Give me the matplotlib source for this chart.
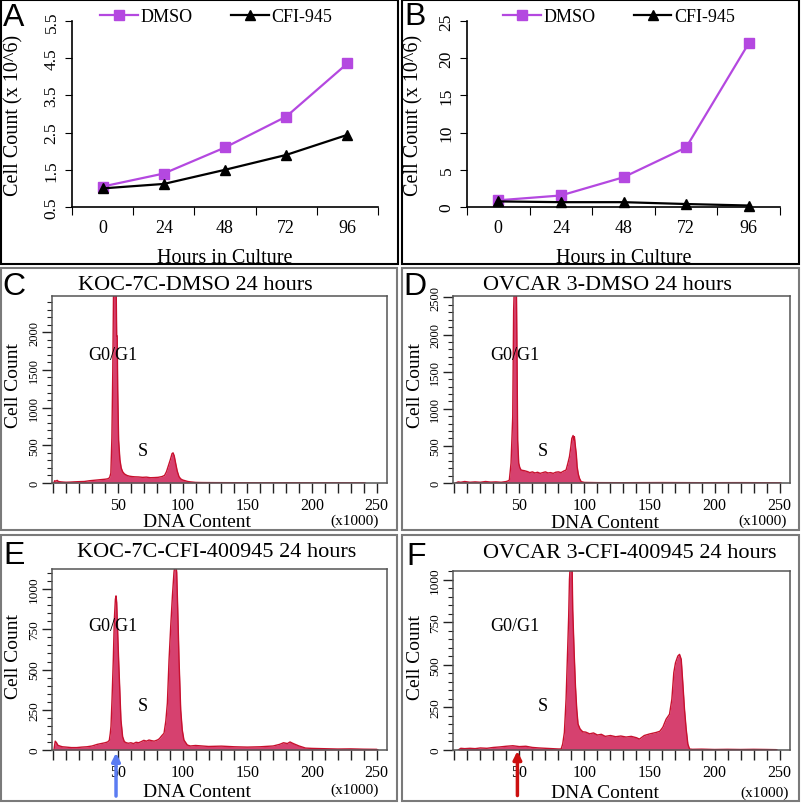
import numpy as np
import matplotlib.pyplot as plt
from matplotlib.patches import Rectangle
from matplotlib.ticker import MultipleLocator

# growth curves (cell count x 10^6)
hours = ['0', '24', '48', '72', '96']
a_dmso = [1.05, 1.4, 2.1, 2.93, 4.36]
a_cfi = [1.0, 1.12, 1.5, 1.9, 2.44]
b_dmso = [0.9, 1.55, 4.0, 8.0, 22.0]
b_cfi = [0.75, 0.65, 0.65, 0.4, 0.2]

# DNA content histograms, outline (x1000, cell count)
dna_c = [0.5, 1, 2, 3, 4, 6, 8, 10, 13, 16, 20, 24, 28, 31, 34, 37, 40, 42, 43.5, 44.5,
         45.3, 46.0, 46.6, 47.2, 48.0, 48.6, 49.0, 49.4, 49.8, 50.5, 51.5, 52.5, 53.6, 55, 57,
         59, 61, 63, 66, 69, 72, 75, 78, 81, 84, 86, 87.5, 89, 90.5, 91.8, 92.6, 93.5, 94.6,
         95.8, 97.2, 98.5, 100, 102, 104, 106, 110, 115, 125, 140, 160, 180, 200, 220, 240, 241]
count_c = [0, 30, 25, 35, 20, 15, 12, 10, 12, 15, 18, 20, 30, 35, 40, 45, 50, 55, 70, 130,
           600, 1500, 2600, 2600, 2600, 2600, 1950, 1950, 1240, 570, 310, 200, 150, 120, 100,
           90, 85, 82, 80, 75, 78, 70, 72, 75, 85, 100, 150, 230, 310, 390, 400, 360, 262,
           160, 84, 55, 40, 30, 20, 15, 8, 6, 5, 4, 3, 4, 3, 3, 2, 0]

dna_d = [1, 3, 5, 8, 12, 16, 20, 24, 28, 32, 36, 40, 41.5, 42.3, 43.6, 44.9, 45.6, 46.2, 46.7,
         47.7, 48.2, 48.7, 49.5, 50.3, 51.3, 52.5, 53.8, 55, 56.4, 58, 60, 62, 64, 66, 68, 70,
         72, 74, 76, 78, 80, 82, 84, 85.9, 87.2, 88.5, 89.5, 90.3, 91.3, 91.8, 92.3, 93.1,
         93.8, 94.4, 95.3, 96.2, 97.5, 100, 110, 130, 160, 190, 220, 250, 251]
count_d = [0, 15, 10, 20, 10, 15, 10, 20, 12, 15, 10, 20, 30, 40, 268, 891, 2325, 2700, 2700,
           2700, 1697, 578, 268, 210, 175, 170, 166, 160, 153, 140, 150, 135, 145, 130, 140,
           150, 135, 140, 130, 145, 150, 140, 160, 175, 260, 354, 480, 600, 640, 580, 624, 489,
           380, 220, 120, 63, 18, 8, 5, 4, 6, 4, 5, 3, 0]

dna_e = [0.5, 1.5, 2.5, 3.5, 5, 7, 10, 14, 18, 22, 26, 30, 34, 37, 40, 42, 43.3, 44.0, 44.6,
         45.4, 46.4, 47.2, 48.0, 48.5, 49.0, 49.7, 50.5, 51.5, 52.3, 53.6, 54.9, 56.5, 58, 60,
         62, 64, 66, 68, 70, 72, 74, 76, 78, 80.5, 82, 84, 85.6, 87, 88.2, 89.5, 90.8, 92.1,
         93.3, 94.0, 94.8, 95.4, 96.2, 97.2, 98.5, 99.7, 101, 103.6, 106, 110, 115, 120, 130,
         140, 150, 160, 170, 175, 178, 181, 183, 185, 187, 190, 195, 200, 210, 220, 230, 240,
         250, 251]
count_e = [0, 55, 45, 30, 25, 20, 18, 15, 15, 18, 20, 25, 35, 40, 45, 50, 60, 100, 146, 312,
           562, 812, 937, 958, 917, 750, 562, 354, 187, 83, 52, 45, 42, 45, 40, 48, 45, 52, 60,
           55, 62, 58, 55, 62, 70, 90, 104, 180, 292, 562, 771, 958, 1104, 1150, 1150, 1104,
           875, 562, 250, 125, 62, 31, 25, 28, 25, 22, 24, 20, 18, 20, 25, 35, 45, 40, 50, 42,
           35, 25, 12, 10, 8, 6, 7, 5, 4, 0]

dna_f = [3, 5, 8, 12, 16, 20, 25, 30, 35, 40, 45, 50, 55, 60, 65, 70, 75, 80, 82.1, 83.3,
         84.6, 85.9, 87.2, 87.9, 88.5, 89.2, 90.5, 91.0, 92.1, 93.1, 94.1, 95.1, 96.7, 98.7,
         101, 104, 107, 110, 113, 116, 120, 124, 128, 132, 136, 140, 142.3, 146, 150, 155.2,
         158, 160.3, 162.8, 165.4, 167.2, 168.7, 170, 171.8, 173.1, 174.4, 175.6, 176.9,
         178.2, 179.5, 180.8, 183, 190, 200, 210, 220, 230, 240, 247.4, 248]
count_f = [0, 10, 8, 10, 8, 12, 10, 15, 18, 22, 25, 20, 22, 15, 12, 10, 8, 6, 6, 35, 103, 298,
           610, 785, 1000, 1100, 1100, 825, 573, 376, 240, 152, 123, 107, 105, 95, 100, 88, 92,
           80, 85, 78, 82, 76, 80, 72, 64, 85, 94, 103, 110, 134, 181, 210, 298, 454, 512, 551,
           561, 532, 395, 240, 123, 35, 6, 4, 5, 3, 4, 3, 4, 3, 2, 0]

W, H = 802, 804
purple = '#b448e0'
fill_red = '#d6416f'
edge_red = '#c8102e'

plt.rcParams['font.family'] = 'Liberation Serif'


def box(l, t, r, b):
    return [l / W, 1 - b / H, (r - l) / W, (b - t) / H]


def txt(x, y, s, **kw):
    kw.setdefault('va', 'center')
    fig.text(x / W, 1 - y / H, s, ha='center', **kw)


fig = plt.figure(figsize=(W / 100, H / 100), dpi=100)

# panel frames
for l, t, r, b, c in [(1, 1, 398, 265, 'black'), (402, 1, 799, 265, 'black'),
                      (1, 269, 397, 531, '#7a7a7a'), (402, 269, 799, 531, '#7a7a7a'),
                      (1, 536, 397, 802, '#7a7a7a'), (402, 536, 799, 802, '#7a7a7a')]:
    fig.add_artist(Rectangle((l / W, 1 - b / H), (r - l) / W, (b - t) / H,
                             transform=fig.transFigure, fill=False, ec=c, lw=1.5))


def growth(rect, dmso, cfi, ylim, yticks, ylabels, legx):
    ax = fig.add_axes(rect)
    x = np.arange(len(hours))
    ax.plot(x, dmso, color=purple, marker='s', ms=7, lw=1.6, label='DMSO', clip_on=False)
    ax.plot(x, cfi, color='black', marker='^', ms=7, lw=1.6, label='CFI-945', clip_on=False)
    ax.set_xlim(-0.5, 4.5)
    ax.set_ylim(*ylim)
    ax.set_xticks(np.arange(-0.5, 5, 1))
    ax.set_xticklabels([])
    ax.set_xticks(x, minor=True)
    ax.set_xticklabels(hours, minor=True)
    ax.tick_params(axis='x', which='major', length=6, direction='out')
    ax.tick_params(axis='x', which='minor', length=0, labelsize=13, pad=9)
    ax.set_yticks(yticks)
    ax.set_yticklabels(ylabels, rotation=90, va='center')
    ax.tick_params(axis='y', length=5, labelsize=12.5, pad=4)
    for s in ['top', 'right']:
        ax.spines[s].set_visible(False)
    for s in ['left', 'bottom']:
        ax.spines[s].set_linewidth(1.2)
    ax.set_xlabel('Hours in Culture', fontsize=14.5, labelpad=8)
    ax.set_ylabel('Cell Count (x 10^6)', fontsize=14.5)
    ax.legend(loc='center', bbox_to_anchor=(legx / W, 1 - 18 / H),
              bbox_transform=fig.transFigure, ncol=2, frameon=False, fontsize=13,
              handlelength=2.1, handletextpad=0.15, columnspacing=2.1,
              borderpad=0, borderaxespad=0)
    return ax


axA = growth(box(72, 22, 378, 208), a_dmso, a_cfi, (0.5, 5.5),
             [0.5, 1.5, 2.5, 3.5, 4.5, 5.5], ['0.5', '1.5', '2.5', '3.5', '4.5', '5.5'], 216)
axB = growth(box(467, 22, 780, 208), b_dmso, b_cfi, (0, 25),
             [0, 5, 10, 15, 20, 25], ['0', '5', '10', '15', '20', '25'], 619)
axA.yaxis.set_label_coords(-0.157, 0.5)
axB.yaxis.set_label_coords(-0.138, 0.5)


def histo(rect, dna, count, ymax, ymajor, yminor, ylabelsize):
    ax = fig.add_axes(rect)
    ax.fill_between(dna, count, color=fill_red, lw=0)
    ax.plot(dna, count, color=edge_red, lw=1.0)
    ax.set_xlim(-1, 258)
    ax.set_ylim(0, ymax)
    ax.xaxis.set_major_locator(MultipleLocator(50))
    ax.xaxis.set_minor_locator(MultipleLocator(10))
    ax.yaxis.set_major_locator(MultipleLocator(ymajor))
    ax.yaxis.set_minor_locator(MultipleLocator(yminor))
    ax.set_xticks([50, 100, 150, 200, 250])
    ax.tick_params(axis='x', which='both', length=7, width=1, labelsize=11.5, pad=3,
                   color='#222')
    ax.tick_params(axis='y', which='major', length=7, width=1, labelsize=ylabelsize, pad=1.5,
                   color='#222')
    ax.tick_params(axis='y', which='minor', length=3.5, width=0.8, color='#222')
    plt.setp(ax.get_yticklabels(), rotation=90, va='center')
    for s in ax.spines.values():
        s.set_color('#555')
        s.set_linewidth(1.1)
    return ax


axC = histo(box(52, 297, 387, 484), dna_c, count_c, 2480, 500, 100, 9)
axD = histo(box(453, 297, 790, 484), dna_d, count_d, 2520, 500, 100, 9)
axE = histo(box(52, 570, 387, 751), dna_e, count_e, 1125, 250, 50, 9.5)
axF = histo(box(453, 572, 790, 751), dna_f, count_f, 1050, 250, 50, 9.5)

# arrows under E and F
axE.annotate('', xy=(48.5, 0), xytext=(48.5, -0.27), xycoords=axE.get_xaxis_transform(),
             textcoords=axE.get_xaxis_transform(), annotation_clip=False,
             arrowprops=dict(arrowstyle='-|>', color='#5b7cf2', lw=2.5, mutation_scale=12))
axF.annotate('', xy=(48.5, 0.01), xytext=(48.5, -0.27), xycoords=axF.get_xaxis_transform(),
             textcoords=axF.get_xaxis_transform(), annotation_clip=False,
             arrowprops=dict(arrowstyle='-|>', color='#cc1010', lw=2.5, mutation_scale=12))

# texts
for (x, y), s in zip([(14, 18), (415, 17), (14, 287), (415, 287), (14, 556), (416, 557)],
                     'ABCDEF'):
    txt(x, y, s, fontsize=23, family='Liberation Sans')

txt(195, 285, 'KOC-7C-DMSO 24 hours', fontsize=16)
txt(607, 285, 'OVCAR 3-DMSO 24 hours', fontsize=16)
txt(217, 553, 'KOC-7C-CFI-400945 24 hours', fontsize=16)
txt(630, 554, 'OVCAR 3-CFI-400945 24 hours', fontsize=16)

for (cx, cy), (dx, dy) in zip([(13, 385), (415, 385), (13, 657), (415, 658)],
                              [(197, 527), (605, 528), (197, 797), (605, 798)]):
    txt(cx, cy, 'Cell Count', fontsize=14, rotation=90)
    txt(dx, dy, 'DNA Content', fontsize=14, va='baseline')

for x, y in [(355, 525), (763, 525), (355, 794), (765, 797)]:
    txt(x, y, '(x1000)', fontsize=11, va='baseline')

for x, y in [(113, 355), (515, 355), (113, 627), (515, 627)]:
    txt(x, y, 'G0/G1', fontsize=13)
for x, y in [(143, 452), (543, 452), (143, 707), (543, 707)]:
    txt(x, y, 'S', fontsize=13)

plt.savefig('out.png', dpi=100)
